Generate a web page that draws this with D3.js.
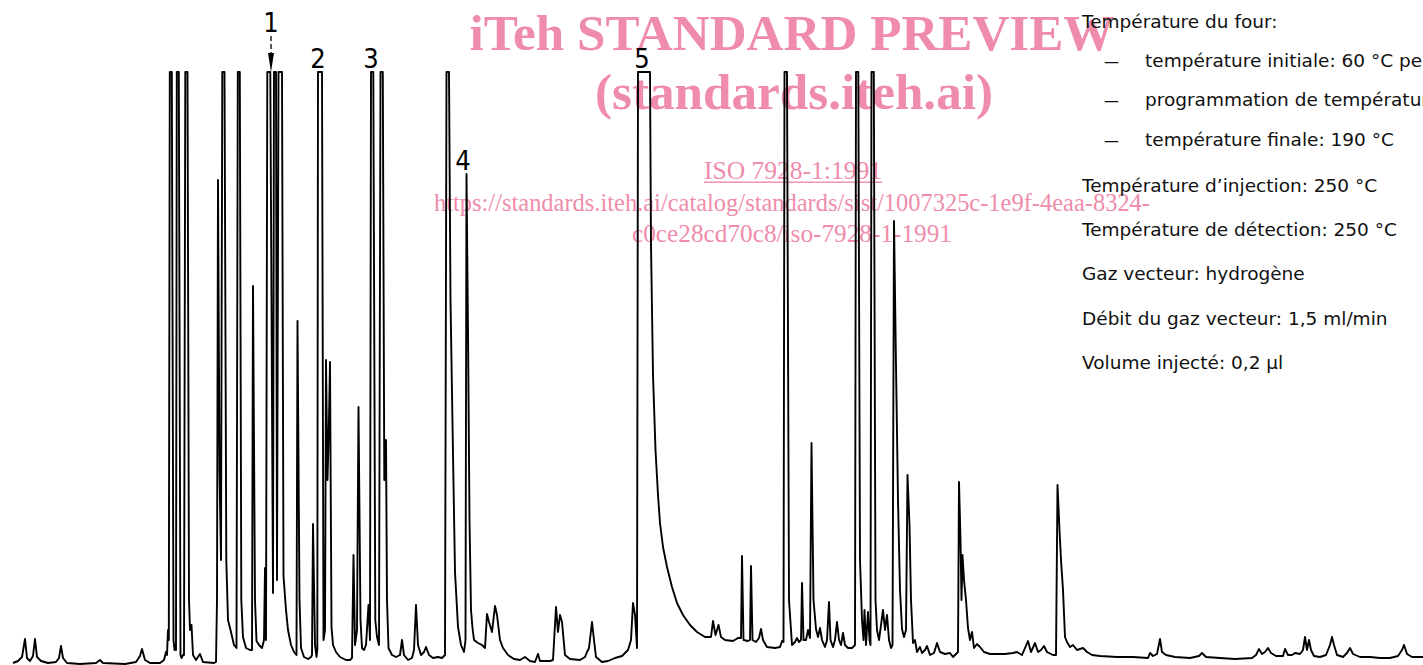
<!DOCTYPE html>
<html><head><meta charset="utf-8">
<script src="https://cdn.jsdelivr.net/npm/d3@7"></script>
<style>html,body{margin:0;padding:0;background:#fff;overflow:hidden}</style>
</head><body><div id="chart"></div>
<script>
// Off-scale (pen saturated) response value
const C = 700;
// Chromatogram trace: [retention position, detector response]
const trace = [
[13,2],[18,4],[22,8],[25,26],[27,7],[30,4],[33,9],[35,26],[37,8],[41,4],[48,2],[56,3],[59,7],[61,19],[63,7],[67,2],[80,1],[96,2],[100,5],[103,2],[125,1],[136,3],[140,9],[142,16],[145,5],[150,2],[160,2],[164,5],[166,13],[167,10],[168,35],[168.8,25],[169.8,C],[171.8,C],[173.5,25],[174.5,15],[175.3,20],[176,15],[176.8,C],[178.8,C],[180.5,10],[181.5,7],[183,10],[184,10],[185.3,C],[187.5,C],[189,65],[190,35],[191.5,40],[193,10],[196,5],[200,11],[203,3],[214,2],[216,3],[217,65],[218,485],[219.5,195],[221,105],[222.3,C],[224.5,C],[226.3,105],[228,45],[231,33],[234,20],[236.5,17],[237.8,C],[239.8,C],[241.3,65],[243,28],[246,17],[250,15],[252,15],[253,379],[255,65],[256.5,24],[259,20],[262,17],[264,25],[265,97],[266,25],[267.3,C],[270.3,C],[273,72],[274,C],[276,C],[277,85],[278.5,C],[282,C],[283.5,89],[286,55],[288,35],[291,20],[294,13],[296.5,10],[297.5,344],[299.5,65],[301,17],[304,8],[308,6],[311,8],[312,10],[313,141],[315,20],[316.5,8],[317.3,15],[318,C],[322,C],[323.5,25],[325,35],[326,305],[327.5,185],[328.7,230],[330,303],[331.5,38],[333,20],[336,13],[340,8],[346,5],[350,5],[352,7],[353.5,110],[355,20],[357,35],[358.5,258],[360.5,45],[362,17],[364,15],[366,20],[368.5,60],[370,25],[371,C],[373.3,C],[375.3,45],[377,28],[379,20],[380.5,C],[382.8,C],[384.3,185],[386,225],[387,65],[388.5,17],[392,10],[396,8],[400,10],[402,25],[404,10],[408,5],[412,7],[414,15],[416,60],[418,20],[421,10],[424,13],[426,18],[429,10],[433,7],[438,8],[442,7],[445,10],[446.5,C],[449,C],[450.5,365],[452.5,241],[455,93],[458,38],[461,20],[464,13],[465.5,25],[466.5,491],[468,335],[469.5,145],[471,55],[472.5,37],[474,25],[478,22],[482,20],[485,17],[487,51],[489,43],[492,33],[495,59],[497,50],[500,25],[503,17],[508,10],[514,6],[520,5],[525,8],[530,4],[535,3],[538,11],[540,4],[550,4],[553,5],[556,58],[558,33],[560,50],[562,43],[565,10],[570,6],[580,5],[585,8],[587,13],[589,17],[592,43],[594,25],[596,8],[602,3],[608,4],[615,7],[622,9],[628,15],[631,25],[633,62],[635,50],[637,17],[638,C],[650,C],[651,420],[653,290],[655.5,215],[658,170],[660,142],[663,118],[667,98],[672,78],[677,62],[683,50],[690,40],[697,33],[705,28],[711,28],[713,44],[715.5,30],[718.5,40],[721,28],[725,25],[733,24],[738,27],[741,27],[742,109],[743.5,25],[748,24],[750,25],[751,99],[752.5,25],[756,23],[759,27],[761,36],[763,25],[767,18],[775,17],[780,18],[782,24],[783.5,23],[784.5,C],[787,C],[789,65],[792,20],[795,23],[797,27],[799,23],[801,25],[802,82],[803.5,25],[806,25],[808,35],[810,27],[811.5,222],[813.5,65],[816,36],[818,28],[820,37],[822,25],[825,18],[827,25],[829,63],[830.5,25],[833,18],[835,25],[837,43],[839,25],[841,20],[843,32],[845,20],[848,17],[852,17],[855,20],[856,C],[858.3,C],[860,105],[862,45],[863.5,25],[864.5,55],[866,20],[868,53],[869.5,25],[870.5,20],[871.5,C],[873.8,C],[875.5,65],[877,35],[879,25],[881,40],[883,55],[885,35],[887,50],[889,25],[891,17],[892.5,20],[894,444],[896,300],[898,165],[900,75],[902,36],[904,28],[906,35],[907.5,190],[909.5,140],[911,65],[913,22],[915,25],[917,13],[920,18],[922,12],[925,15],[927,19],[930,10],[934,12],[937,22],[940,13],[945,11],[950,12],[953,8],[956,11],[958,13],[959,183],[960.5,125],[961.5,65],[962.5,110],[964,85],[966,65],[968,37],[970,25],[972,33],[974,17],[977,21],[980,18],[984,13],[990,11],[997,11],[1005,11],[1013,12],[1017,13],[1022,10],[1028,24],[1031,13],[1035,22],[1038,13],[1041,15],[1044,19],[1047,13],[1053,10],[1056,10],[1057.5,180],[1059.5,135],[1061,105],[1063,75],[1065,28],[1067,23],[1070,18],[1073,20],[1077,15],[1083,17],[1087,13],[1092,10],[1100,9],[1117,8],[1133,8],[1148,7],[1150,12],[1153,9],[1157,11],[1160,26],[1162,13],[1166,10],[1175,8],[1190,7],[1199,9],[1202,12],[1206,8],[1220,7],[1235,6],[1252,7],[1256,10],[1259,16],[1262,11],[1265,13],[1268,17],[1271,12],[1276,9],[1283,9],[1285,16],[1288,10],[1292,10],[1295,12],[1300,11],[1303,15],[1305,28],[1307,15],[1309,25],[1311,15],[1314,9],[1320,8],[1326,10],[1330,20],[1332,28],[1334,20],[1337,10],[1343,8],[1347,12],[1350,17],[1353,11],[1360,8],[1370,8],[1380,7],[1390,7],[1398,9],[1402,15],[1404,20],[1407,11],[1412,8],[1423,8]
];
const peakLabels = ["1","2","3","4","5"];
const peakLabelTimes = [271, 318, 371, 463, 642];
const conditionText = [
  "Température du four:",
  "température initiale: 60 °C pe",
  "programmation de températur",
  "température finale: 190 °C",
  "Température d’injection: 250 °C",
  "Température de détection: 250 °C",
  "Gaz vecteur: hydrogène",
  "Débit du gaz vecteur: 1,5 ml/min",
  "Volume injecté: 0,2 µl"
];
const conditionIsSub = [false,true,true,true,false,false,false,false,false];
const watermarkText = [
  "iTeh STANDARD PREVIEW",
  "(standards.iteh.ai)",
  "ISO 7928-1:1991",
  "https://standards.iteh.ai/catalog/standards/sist/1007325c-1e9f-4eaa-8324-",
  "c0ce28cd70c8/iso-7928-1-1991"
];

const W = 1423, H = 665;
const svg = d3.select("#chart").append("svg").attr("width", W).attr("height", H)
  .style("display","block");

const x = d3.scaleLinear().domain([0, 1423]).range([0, 1423]);
const y = d3.scaleLinear().domain([0, 593]).range([665, 72]).clamp(true);

// watermark (behind)
const pink = "#ef8cab";
const wm = svg.append("g").attr("fill", pink);
const wmSpec = [
  {cx:792, y:50, size:50, bold:true, len:645},
  {cx:794, y:109, size:50, bold:true, len:398},
  {cx:793, y:179, size:25, bold:false, len:178, underline:true},
  {cx:792, y:211, size:24.5, bold:false, len:716},
  {cx:792, y:242, size:24.5, bold:false, len:320}
];
watermarkText.forEach((t,i)=>{
  const s = wmSpec[i];
  wm.append("text").attr("x", s.cx).attr("y", s.y).attr("text-anchor","middle")
    .attr("font-family","'Liberation Serif','Times New Roman',serif")
    .attr("font-size", s.size).attr("font-weight", s.bold ? "bold" : "normal")
    .attr("textLength", s.len).attr("lengthAdjust","spacingAndGlyphs")
    .text(t);
  if (s.underline) {
    wm.append("rect").attr("x", s.cx - s.len/2).attr("y", s.y + 2.5)
      .attr("width", s.len).attr("height", 1.4);
  }
});

// trace
const line = d3.line().x(d => x(d[0])).y(d => y(d[1]));
svg.append("path").datum(trace).attr("d", line)
  .attr("fill","none").attr("stroke","#000").attr("stroke-width",1.9)
  .attr("stroke-linejoin","round");

// peak labels
const lab = svg.append("g").attr("font-family","'Liberation Sans Narrow','DejaVu Sans Condensed',sans-serif")
  .attr("font-size", 27).attr("fill","#000").attr("text-anchor","middle");
peakLabels.forEach((p,i)=>{
  const t = peakLabelTimes[i];
  const near = trace.filter(d => Math.abs(d[0]-t) <= 4);
  const top = y(d3.max(near, d=>d[1]));
  const px = x(t);
  if (i === 0) {
    lab.append("text").attr("x", px).attr("y", top - 40).text(p);
    svg.append("line").attr("x1",px).attr("x2",px).attr("y1",top-36).attr("y2",top-16)
      .attr("stroke","#000").attr("stroke-width",1.3).attr("stroke-dasharray","5,3");
    svg.append("path").attr("d", `M${px-3},${top-19}L${px+3},${top-19}L${px},${top}Z`).attr("fill","#000");
  } else {
    lab.append("text").attr("x", px).attr("y", top - 4).text(p);
  }
});

// conditions text block
const tb = svg.append("g").attr("font-family","'DejaVu Sans',sans-serif")
  .attr("font-size", 18.5).attr("fill","#111");
const lineY = [28, 67, 106, 146, 192, 236, 280, 325, 369];
conditionText.forEach((t,i)=>{
  if (conditionIsSub[i]) {
    tb.append("text").attr("x",1104).attr("y",lineY[i]).attr("font-size",15).text("—");
    tb.append("text").attr("x",1145).attr("y",lineY[i]).text(t);
  } else {
    tb.append("text").attr("x",1082).attr("y",lineY[i]).text(t);
  }
});
</script>
</body></html>
